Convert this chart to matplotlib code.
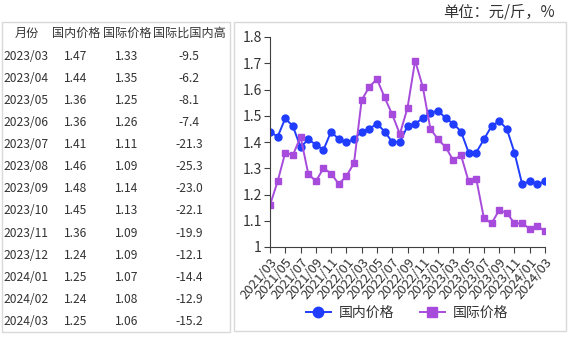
import matplotlib.pyplot as plt
import matplotlib.patches as patches
import pandas as pd

plt.rcParams['font.family'] = ['Noto Sans CJK SC', 'DejaVu Sans']

# chart data, monthly 2021/03 .. 2024/03
months = [p.strftime('%Y/%m') for p in pd.period_range('2021-03', '2024-03', freq='M')]
domestic = [1.44, 1.42, 1.49, 1.46, 1.38, 1.41, 1.39, 1.37, 1.44, 1.41, 1.40, 1.41,
            1.44, 1.45, 1.47, 1.44, 1.40, 1.40, 1.46, 1.47, 1.49, 1.51, 1.52, 1.49,
            1.47, 1.44, 1.36, 1.36, 1.41, 1.46, 1.48, 1.45, 1.36, 1.24, 1.25, 1.24, 1.25]
international = [1.16, 1.25, 1.36, 1.35, 1.42, 1.28, 1.25, 1.30, 1.28, 1.24, 1.27, 1.32,
                 1.56, 1.61, 1.64, 1.57, 1.505, 1.43, 1.53, 1.71, 1.61, 1.45, 1.41, 1.38,
                 1.33, 1.35, 1.25, 1.26, 1.11, 1.09, 1.14, 1.13, 1.09, 1.09, 1.07, 1.08, 1.06]

# table data
tbl_header = ['月份', '国内价格', '国际价格', '国际比国内高']
tbl_months = ['2023/03', '2023/04', '2023/05', '2023/06', '2023/07', '2023/08', '2023/09',
              '2023/10', '2023/11', '2023/12', '2024/01', '2024/02', '2024/03']
tbl_dom = ['1.47', '1.44', '1.36', '1.36', '1.41', '1.46', '1.48',
           '1.45', '1.36', '1.24', '1.25', '1.24', '1.25']
tbl_intl = ['1.33', '1.35', '1.25', '1.26', '1.11', '1.09', '1.14',
            '1.13', '1.09', '1.09', '1.07', '1.08', '1.06']
tbl_diff = ['-9.5', '-6.2', '-8.1', '-7.4', '-21.3', '-25.3', '-23.0',
            '-22.1', '-19.9', '-12.1', '-14.4', '-12.9', '-15.2']

W, H = 570, 337
fig = plt.figure(figsize=(W / 100, H / 100), dpi=100)

def fx(px):
    return px / W

def fy(py):
    return 1 - py / H

txt_color = '#333333'
border = '#d9d9d9'

# boxes around table and chart
fig.patches.append(patches.Rectangle((fx(1.5), fy(332)), fx(228), 310 / H, transform=fig.transFigure,
                                     fill=False, edgecolor=border, lw=1))
fig.patches.append(patches.Rectangle((fx(233.5), fy(331)), fx(332), 309 / H, transform=fig.transFigure,
                                     fill=False, edgecolor=border, lw=1))

# unit label
fig.text(fx(555), fy(12), '单位：元/斤，%', ha='right', va='center', fontsize=11, color=txt_color)

# table
col_x = [27, 76, 127, 189]
fs = 8.7
head_y = 33
for cx, h in zip(col_x, tbl_header):
    fig.text(fx(cx), fy(head_y), h, ha='center', va='center', fontsize=fs, color=txt_color)
row_h = 22.14
for i in range(len(tbl_months)):
    y = fy(56 + i * row_h)
    fig.text(fx(3), y, tbl_months[i], ha='left', va='center', fontsize=fs, color=txt_color)
    fig.text(fx(col_x[1]), y, tbl_dom[i], ha='center', va='center', fontsize=fs, color=txt_color)
    fig.text(fx(col_x[2]), y, tbl_intl[i], ha='center', va='center', fontsize=fs, color=txt_color)
    fig.text(fx(col_x[3]), y, tbl_diff[i], ha='center', va='center', fontsize=fs, color=txt_color)

# chart
ax = fig.add_axes([fx(270), fy(247), fx(545 - 270), (247 - 37) / H])
x = list(range(len(months)))
blue = '#1f3cff'
purple = '#a64bdb'
ax.plot(x, domestic, color=blue, lw=1.4, marker='o', ms=5, label='国内价格')
ax.plot(x, international, color=purple, lw=1.4, marker='s', ms=5, label='国际价格')

ax.set_xlim(0, len(months) - 1)
ax.set_ylim(1.0, 1.8)
yt = [1.0, 1.1, 1.2, 1.3, 1.4, 1.5, 1.6, 1.7, 1.8]
ax.set_yticks(yt)
ax.set_yticklabels(['1'] + [f'{v:.1f}' for v in yt[1:]], fontsize=10, color=txt_color)
ax.set_xticks(x[::2])
ax.set_xticklabels(months[::2], rotation=50, ha='right', rotation_mode='anchor',
                   fontsize=9.5, color=txt_color)
ax.tick_params(axis='both', length=4, width=0.8, color='#404040', pad=2)
for s in ['top', 'right']:
    ax.spines[s].set_visible(False)
for s in ['left', 'bottom']:
    ax.spines[s].set_color('#404040')
    ax.spines[s].set_linewidth(0.8)

fig.legend(loc='center', bbox_to_anchor=(fx(407), fy(313)), ncol=2, frameon=False,
           fontsize=10, handlelength=1.8, columnspacing=1.8, handletextpad=0.6,
           markerscale=1.5, labelcolor=txt_color)

fig.savefig('out.png', dpi=100)
